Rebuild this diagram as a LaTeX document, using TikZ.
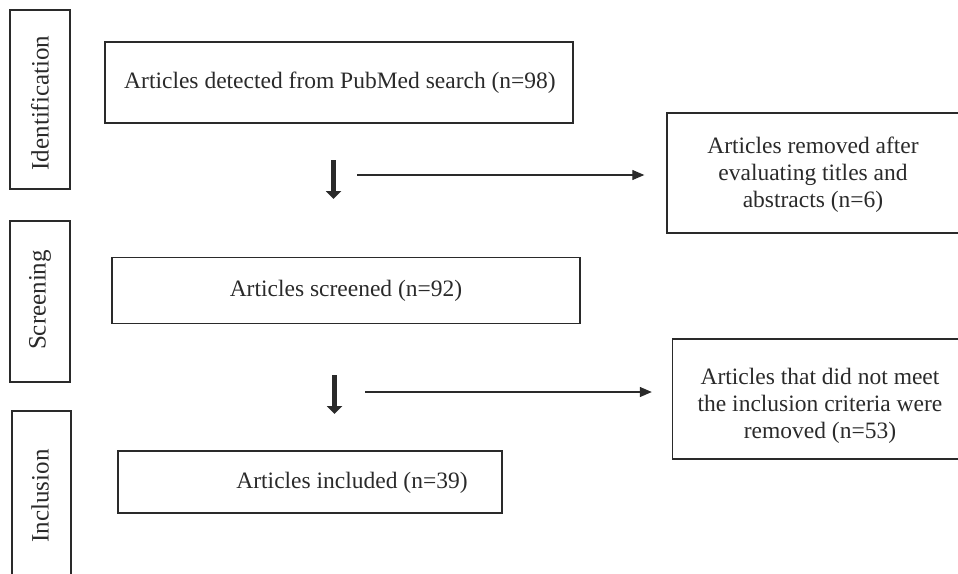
\documentclass[tikz,border=0pt]{standalone}
\usepackage{fontspec}
\setmainfont{Liberation Serif}
\usetikzlibrary{arrows.meta}
\definecolor{ink}{HTML}{2A2A2A}
\tikzset{
  box/.style={draw=ink, line width=1.4pt, rectangle, inner sep=0pt},
  txt/.style={text=ink, font=\fontsize{23.5}{27}\selectfont, align=center, inner sep=0pt},
  side/.style={text=ink, font=\fontsize{25}{28}\selectfont, rotate=90, inner sep=0pt},
  thinarrow/.style={draw=ink, line width=1.2pt, -{Triangle[length=12pt,width=10pt]}},
  thickarrow/.style={draw=ink, line width=4.5pt, -{Triangle[length=8pt,width=15pt]}}
}
\begin{document}
\begin{tikzpicture}[x=1pt,y=-1pt]
\useasboundingbox (0,0) rectangle (958,573);
\clip (0,0) rectangle (958,573);
% side boxes
\node[box, minimum width=60pt, minimum height=179pt] (sid) at (40,99.5) {};
\node[side] (sidt) at (40,103) {Identification};
\node[box, minimum width=60pt, minimum height=161pt] (ssc) at (40,301.5) {};
\node[side] (ssct) at (40,300) {Screening};
\node[box, minimum width=59pt, minimum height=190pt] (sin) at (41.5,506) {};
\node[side] (sint) at (40,496) {Inclusion};
% main boxes
\node[box, minimum width=468pt, minimum height=81pt] (b1) at (339,82.5) {};
\node[txt] (b1t) at (340,83) {Articles detected from PubMed search (n=98)};
\node[box, minimum width=300pt, minimum height=120pt] (r1) at (817,173) {};
\node[txt] (r1t) at (813,175) {Articles removed after\\evaluating titles and\\abstracts (n=6)};
\node[box, minimum width=468pt, minimum height=66pt] (b2) at (346,290.5) {};
\node[txt] (b2t) at (346,291) {Articles screened (n=92)};
\node[box, minimum width=295pt, minimum height=120pt] (r2) at (820,399) {};
\node[txt] (r2t) at (820,406) {Articles that did not meet\\the inclusion criteria were\\removed (n=53)};
\node[box, minimum width=384pt, minimum height=62pt] (b3) at (310,482) {};
\node[txt] (b3t) at (352,483) {Articles included (n=39)};
% arrows
\coordinate (d1s) at (333.5,160);
\coordinate (d1e) at (333.5,199);
\coordinate (d2s) at (334.5,375);
\coordinate (d2e) at (334.5,414);
\draw[thickarrow] (d1s) -- (d1e);
\draw[thickarrow] (d2s) -- (d2e);
\coordinate (h1s) at (357,175);
\coordinate (h2s) at (365,392);
\draw[thinarrow] (h1s) -- ([xshift=-22pt]h1s -| r1.west);
\draw[thinarrow] (h2s) -- ([xshift=-20pt]h2s -| r2.west);
\end{tikzpicture}
\end{document}
